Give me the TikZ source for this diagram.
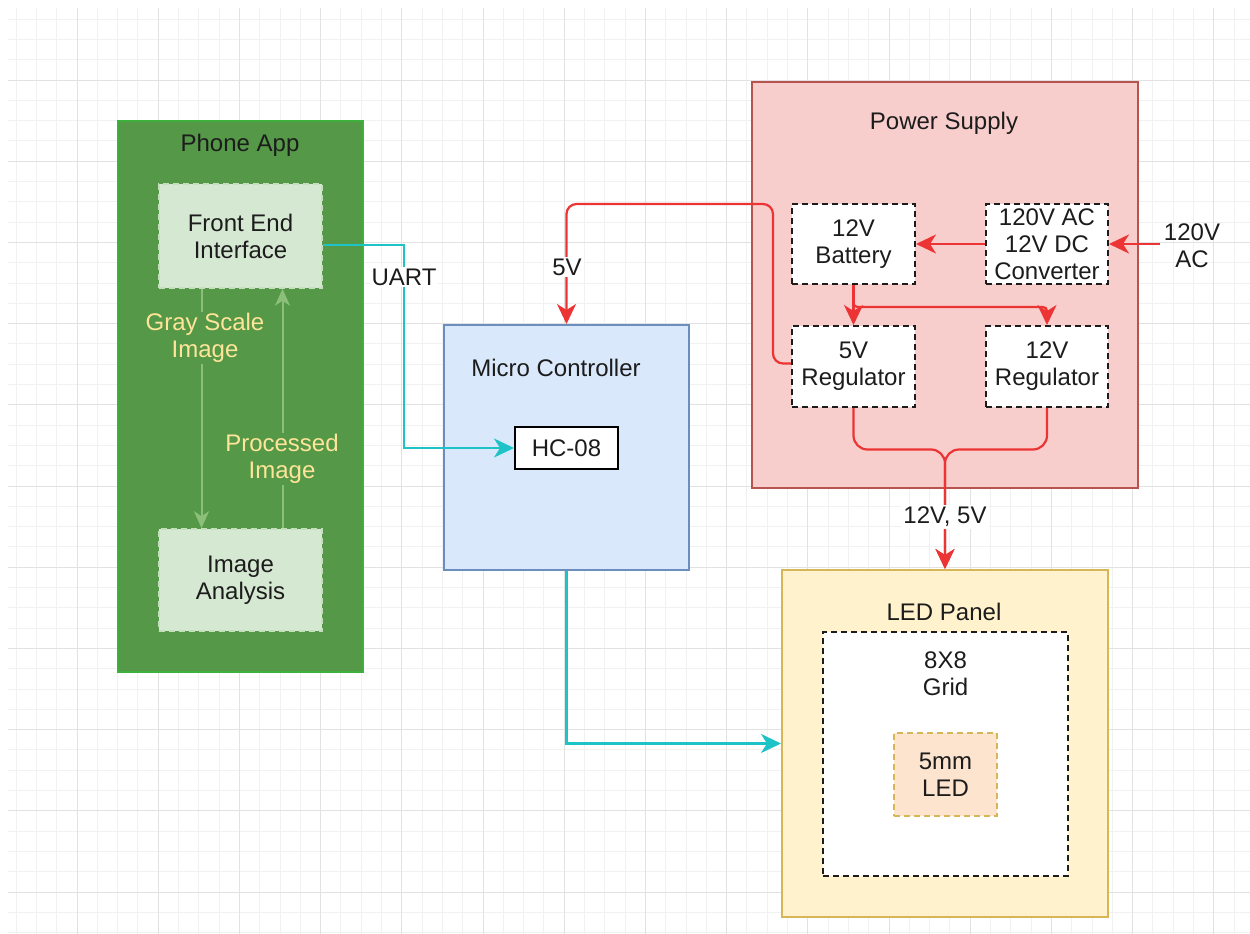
\documentclass[tikz,border=0pt]{standalone}
\usepackage{fontspec}
\setmainfont{Liberation Sans}
\usetikzlibrary{arrows.meta}
\definecolor{txt}{RGB}{28,28,28}
\definecolor{gfill}{RGB}{84,152,72}
\definecolor{gborder}{RGB}{60,178,60}
\definecolor{ginner}{RGB}{213,232,210}
\definecolor{ginnerb}{RGB}{196,222,190}
\definecolor{garrowc}{RGB}{140,192,122}
\definecolor{glabel}{RGB}{255,229,153}
\definecolor{cyanline}{RGB}{30,195,200}
\definecolor{redline}{RGB}{236,52,52}
\definecolor{mcfill}{RGB}{218,232,252}
\definecolor{mcborder}{RGB}{108,142,191}
\definecolor{psfill}{RGB}{248,206,204}
\definecolor{psborder}{RGB}{184,84,80}
\definecolor{ledfill}{RGB}{255,242,204}
\definecolor{ledborder}{RGB}{214,182,86}
\definecolor{ledinner}{RGB}{252,228,206}
\definecolor{gminor}{RGB}{241,241,241}
\definecolor{gmajor}{RGB}{226,226,226}
\begin{document}
\begin{tikzpicture}[x=1pt,y=-1pt,
  every node/.style={font=\fontsize{24}{27}\selectfont, text=txt, inner sep=0pt, align=center},
  dashblk/.style={draw=txt, fill=white, line width=2pt, dash pattern=on 6pt off 4pt},
  tip/.style={-{Stealth[length=20pt,width=19pt,inset=6pt]}},
  redarrow/.style={draw=redline, line width=2.2pt, tip},
  cyanarrow/.style={draw=cyanline, line width=2.2pt, tip},
  garrow/.style={draw=garrowc, line width=2pt, -{Stealth[length=17pt,width=15pt,inset=5pt]}},
  lbl/.style={fill=white, inner sep=2pt}
]
\useasboundingbox (0,0) rectangle (1250,934);
\fill[white] (0,0) rectangle (1250,934);
% background grid
\begin{scope}
\clip (8,8) rectangle (1250,934);
\foreach \k in {-3,...,57} \draw[gminor, line width=1pt] ({77+20.3*\k},8) -- ({77+20.3*\k},934);
\foreach \k in {-3,...,42} \draw[gminor, line width=1pt] (8,{80+20.3*\k}) -- (1250,{80+20.3*\k});
\foreach \k in {0,...,14} \draw[gmajor, line width=1pt] ({77+81.2*\k},8) -- ({77+81.2*\k},934);
\foreach \k in {0,...,10} \draw[gmajor, line width=1pt] (8,{80+81.2*\k}) -- (1250,{80+81.2*\k});
\end{scope}

% Phone App
\node[draw=gborder, fill=gfill, line width=2pt, minimum width=245, minimum height=551] (phone) at (240.5,396.5) {};
\node (phonetitle) at (240,145) {Phone App};
\node[draw=ginnerb, fill=ginner, line width=1.5pt, dash pattern=on 6pt off 4pt, minimum width=163, minimum height=104] (fe) at (240.5,236) {Front End\\Interface};
\node[draw=ginnerb, fill=ginner, line width=1.5pt, dash pattern=on 6pt off 4pt, minimum width=163, minimum height=102] (ia) at (240.5,580) {Image\\Analysis};
\draw[garrow] ([xshift=-39pt]fe.south) -- ([xshift=-39pt]ia.north);
\draw[garrow] ([xshift=42pt]ia.north) -- ([xshift=42pt]fe.south);
\node[text=glabel, fill=gfill, inner sep=1pt] (gslbl) at (205,338) {Gray Scale\\Image};
\node[text=glabel, fill=gfill, inner sep=1pt] (pilbl) at (282,459) {Processed\\Image};

% Micro Controller
\node[draw=mcborder, fill=mcfill, line width=2pt, minimum width=245, minimum height=245] (mc) at (566.5,447.5) {};
\node (mctitle) at (556,368) {Micro Controller};
\node[draw=black, fill=white, line width=2pt, minimum width=103, minimum height=42] (hc) at (566.5,448) {HC-08};

% Power Supply
\node[draw=psborder, fill=psfill, line width=2pt, minimum width=386, minimum height=406] (ps) at (945,285) {};
\node (pstitle) at (944,123) {Power Supply};
\node[dashblk, minimum width=123, minimum height=80] (bat) at (853.5,244) {12V\\Battery};
\node[dashblk, minimum width=122, minimum height=80] (conv) at (1047,244) {120V AC\\12V DC\\Converter};
\node[dashblk, minimum width=123, minimum height=81] (reg5) at (853.5,366.5) {5V\\Regulator};
\node[dashblk, minimum width=122, minimum height=81] (reg12) at (1047,366.5) {12V\\Regulator};

% LED Panel
\node[draw=ledborder, fill=ledfill, line width=2pt, minimum width=326, minimum height=347] (led) at (945,743.5) {};
\node (ledtitle) at (944,612) {LED Panel};
\node[dashblk, minimum width=245, minimum height=244] (grid8) at (945.5,754) {};
\node (gridtxt) at (945.5,673.5) {8X8\\Grid};
\node[draw=ledborder, fill=ledinner, line width=1.5pt, dash pattern=on 6pt off 4pt, minimum width=103, minimum height=83] (led5) at (945.5,774.5) {5mm\\LED};

% connectors
\coordinate (acin) at (1160,244);
\coordinate (v5turn) at (773,204);
\draw[cyanarrow] ([yshift=-9pt]fe.east) -| (404,448) -- (hc.west);
\node[lbl] (uart) at (404,277) {UART};
\draw[cyanarrow] (mc.south) |- (led.west);
\draw[redarrow, rounded corners=10pt] ([yshift=3pt]reg5.west) -| (v5turn) -| (mc.north);
\node[lbl] (v5lbl) at (567,267) {5V};
\draw[redarrow] (acin) -- (conv.east);
\node (aclbl) at (1192,246) {120V\\AC};
\draw[redarrow] (conv.west) -- (bat.east);
\draw[redarrow] (bat.south) -- (reg5.north);
\draw[redarrow, rounded corners=4pt] (bat.south) -- ++(0,22) -| (reg12.north);
\draw[redarrow, rounded corners=14pt] (reg5.south) -- ++(0,41.5) -| (led.north);
\draw[redarrow, rounded corners=14pt] (reg12.south) -- ++(0,41.5) -| (led.north);
\node[lbl] (v125lbl) at (945,517) {12V, 5V};
\end{tikzpicture}
\end{document}
